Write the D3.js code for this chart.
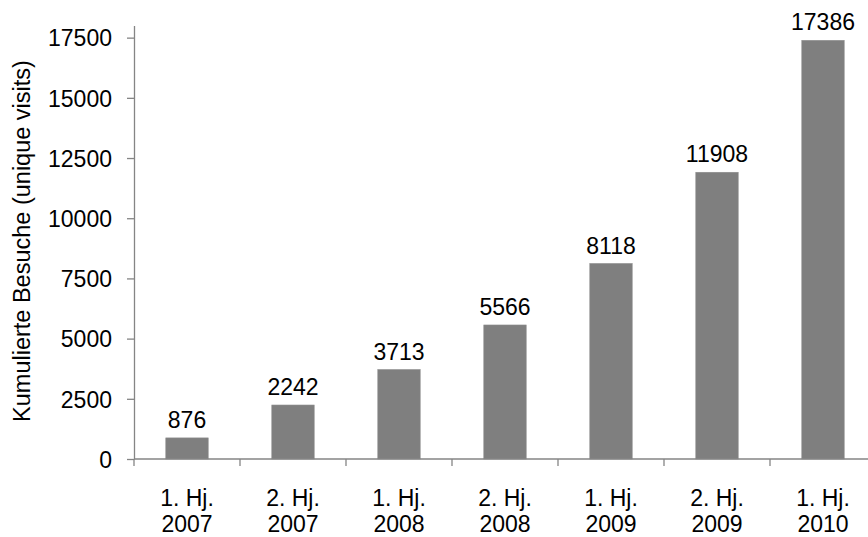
<!DOCTYPE html>
<html>
<head>
<meta charset="utf-8">
<script src="https://cdn.jsdelivr.net/npm/d3@7"></script>
<style>
  body { margin: 0; background: #fff; }
  svg text { font-family: "Liberation Sans", Arial, sans-serif; fill: #000; }
</style>
</head>
<body>
<script>
const halfYears = ['1. Hj.', '2. Hj.', '1. Hj.', '2. Hj.', '1. Hj.', '2. Hj.', '1. Hj.']
const years = ['2007', '2007', '2008', '2008', '2009', '2009', '2010']
const visits = [876, 2242, 3713, 5566, 8118, 11908, 17386]
const yTicks = [0, 2500, 5000, 7500, 10000, 12500, 15000, 17500]

const w = 868
const h = 537
const left = 134
const bottom = 459
const axisColor = '#858585'

const dataset = visits.map((v, i) => ({key: i, half: halfYears[i], year: years[i], value: v}))
const keys = dataset.map(d => d.key)

const svg = d3.select('body')
    .append('svg')
    .attr('width', w)
    .attr('height', h)

const xOuter = d3.scaleBand()
    .domain(keys)
    .range([left, left + 106 * 7])

const xScale = d3.scaleBand()
    .domain(keys)
    .range([left, left + 106 * 7])
    .paddingInner(0.6)
    .paddingOuter(0.3)

const yScale = d3.scaleLinear()
    .domain([0, 18000])
    .range([bottom, 25.6])

// bars
svg.selectAll('rect.bar')
    .data(dataset)
    .enter()
    .append('rect')
    .attr('class', 'bar')
    .attr('x', d => xScale(d.key))
    .attr('y', d => yScale(d.value))
    .attr('width', xScale.bandwidth())
    .attr('height', d => bottom - yScale(d.value))
    .attr('fill', '#7f7f7f')
    .attr('stroke', '#8c8c8c')
    .attr('stroke-width', 0.6)

// value labels
svg.selectAll('text.val')
    .data(dataset)
    .enter()
    .append('text')
    .attr('class', 'val')
    .attr('x', d => xScale(d.key) + xScale.bandwidth() / 2)
    .attr('y', d => yScale(d.value) - 10)
    .attr('text-anchor', 'middle')
    .style('font-size', '23px')
    .text(d => d.value)

// y axis
const yAxis = d3.axisLeft(yScale)
    .tickValues(yTicks)
    .tickFormat(d3.format('d'))
    .tickSize(7)
    .tickSizeOuter(0)
    .tickPadding(15)

const gy = svg.append('g')
    .attr('transform', 'translate(' + left + ',0)')
    .call(yAxis)
gy.selectAll('text').style('font-size', '23px').attr('dy', '0.36em')
gy.selectAll('line, path').attr('stroke', axisColor).attr('stroke-width', 1.3)

// x axis line and boundary ticks
svg.append('line')
    .attr('x1', left).attr('x2', w)
    .attr('y1', bottom).attr('y2', bottom)
    .attr('stroke', axisColor).attr('stroke-width', 1.3)

svg.selectAll('line.xtick')
    .data(keys)
    .enter()
    .append('line')
    .attr('class', 'xtick')
    .attr('x1', d => xOuter(d)).attr('x2', d => xOuter(d))
    .attr('y1', bottom).attr('y2', bottom + 7)
    .attr('stroke', axisColor).attr('stroke-width', 1.3)

// category labels
const xl = svg.selectAll('text.cat')
    .data(dataset)
    .enter()
    .append('text')
    .attr('class', 'cat')
    .attr('text-anchor', 'middle')
    .style('font-size', '23px')
xl.append('tspan')
    .attr('x', d => xScale(d.key) + xScale.bandwidth() / 2)
    .attr('y', 506)
    .text(d => d.half)
xl.append('tspan')
    .attr('x', d => xScale(d.key) + xScale.bandwidth() / 2)
    .attr('y', 532)
    .text(d => d.year)

// y label
svg.append('text')
    .attr('transform', 'translate(30,241) rotate(-90)')
    .attr('text-anchor', 'middle')
    .style('font-size', '23.5px')
    .text('Kumulierte Besuche (unique visits)')
</script>
</body>
</html>
